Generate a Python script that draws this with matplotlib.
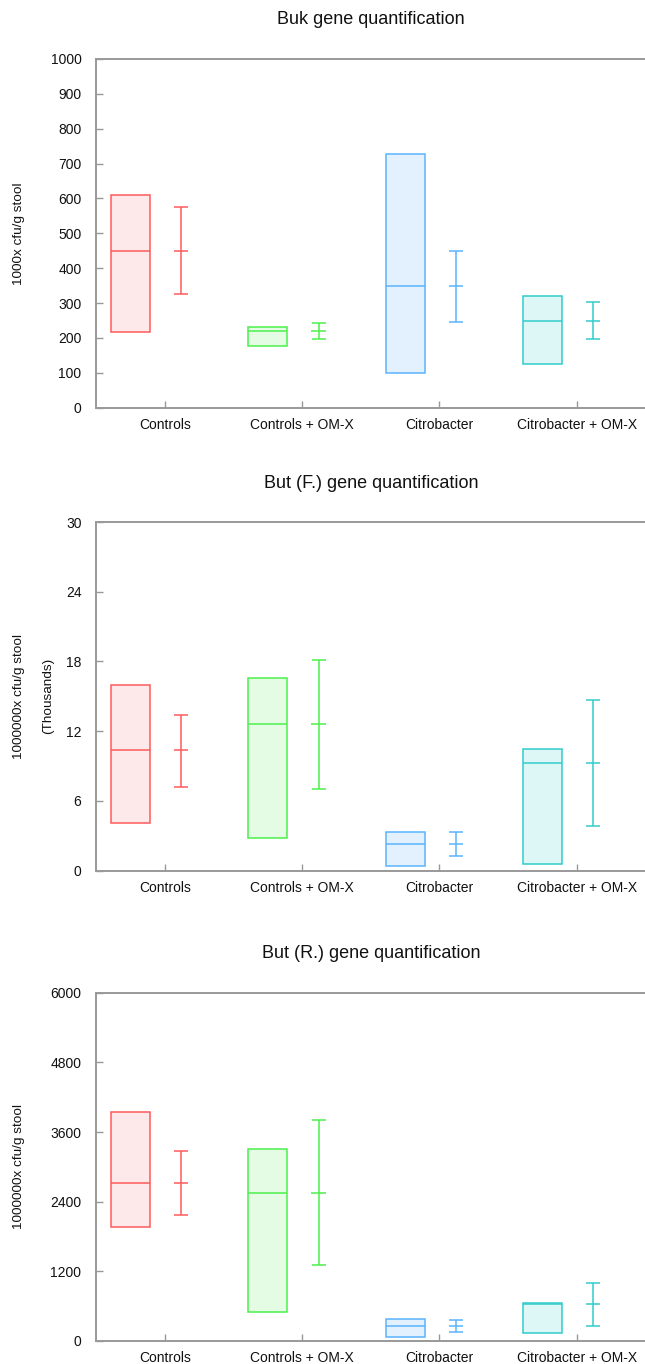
import matplotlib

matplotlib.use("Agg")
import matplotlib.pyplot as plt
import numpy as np

plt.rcParams["font.family"] = ["Liberation Sans", "DejaVu Sans"]

# ---- data ----
categories = ["Controls", "Controls + OM-X", "Citrobacter", "Citrobacter + OM-X"]

buk_box_low = [216, 177, 99, 124]
buk_box_high = [609, 230, 727, 320]
buk_median = [449, 219, 348, 250]
buk_err_low = [325, 197, 245, 198]
buk_err_high = [575, 243, 448, 303]

butf_box_low = [4.07, 2.78, 0.37, 0.57]
butf_box_high = [15.95, 16.55, 3.33, 10.50]
butf_median = [10.35, 12.59, 2.32, 9.24]
butf_err_low = [7.23, 7.06, 1.23, 3.81]
butf_err_high = [13.42, 18.13, 3.33, 14.68]

butr_box_low = [1956, 499, 75, 138]
butr_box_high = [3952, 3315, 384, 648]
butr_median = [2719, 2553, 252, 637]
butr_err_low = [2168, 1308, 155, 264]
butr_err_high = [3281, 3803, 356, 992]

line_colors = ["#ff5a5a", "#4cf04c", "#5ab4ff", "#33cccc"]
fill_colors = ["#fde9e9", "#e4fce4", "#e2f1fd", "#ddf6f6"]

panels = [
    dict(title="Buk gene quantification", ylabel="1000x cfu/g stool", extra=None,
         ylim=1000, yticks=np.arange(0, 1001, 100),
         low=buk_box_low, high=buk_box_high, med=buk_median,
         elo=buk_err_low, ehi=buk_err_high),
    dict(title="But (F.) gene quantification", ylabel="1000000x cfu/g stool",
         extra="(Thousands)", ylim=30, yticks=np.arange(0, 31, 6),
         low=butf_box_low, high=butf_box_high, med=butf_median,
         elo=butf_err_low, ehi=butf_err_high),
    dict(title="But (R.) gene quantification", ylabel="1000000x cfu/g stool",
         extra=None, ylim=6000, yticks=np.arange(0, 6001, 1200),
         low=butr_box_low, high=butr_box_high, med=butr_median,
         elo=butr_err_low, ehi=butr_err_high),
]

W, H = 645, 1364
fig = plt.figure(figsize=(W / 100, H / 100), dpi=100)

# axes boxes in pixels: (top, bottom)
ax_px = [(59, 407.7), (522, 870.7), (992.7, 1341)]
ax_left, ax_right = 96, 645.5

spine_c = "#999999"
x = np.arange(len(categories))

for p, (top, bot) in zip(panels, ax_px):
    ax = fig.add_axes([ax_left / W, 1 - bot / H, (ax_right - ax_left) / W, (bot - top) / H])
    low = np.array(p["low"])
    high = np.array(p["high"])
    med = np.array(p["med"])
    elo = np.array(p["elo"])
    ehi = np.array(p["ehi"])

    bx = x - 0.25
    ex = x + 0.12
    for i in range(len(categories)):
        ax.bar(bx[i], high[i] - low[i], bottom=low[i], width=0.284,
               color=fill_colors[i], edgecolor=line_colors[i], linewidth=1.1, zorder=2)
        ax.hlines(med[i], bx[i] - 0.142, bx[i] + 0.142, color=line_colors[i], lw=1.1, zorder=3)
        ax.errorbar(ex[i], med[i], yerr=[[med[i] - elo[i]], [ehi[i] - med[i]]],
                    fmt="none", ecolor=line_colors[i], elinewidth=1.1,
                    capsize=5.2, capthick=1.1, zorder=3)
        ax.hlines(med[i], ex[i] - 0.052, ex[i] + 0.052, color=line_colors[i], lw=1.1, zorder=3)

    ax.set_xlim(-0.5, 3.5)
    ax.set_ylim(0, p["ylim"])
    ax.set_yticks(p["yticks"])
    ax.set_xticks(x)
    ax.set_xticklabels(categories)
    ax.tick_params(axis="y", direction="in", length=5, width=1, color=spine_c,
                   labelsize=10, pad=10.5, labelcolor="#111111")
    ax.tick_params(axis="x", direction="in", length=5, width=1, color=spine_c,
                   labelsize=10, pad=7.5, labelcolor="#111111")
    for s in ("left", "top", "bottom"):
        ax.spines[s].set_color(spine_c)
        ax.spines[s].set_linewidth(1.4)
    ax.spines["right"].set_visible(False)

    cy = 1 - (top + bot) / 2 / H
    fig.text(19 / W, cy, p["ylabel"], rotation=90, ha="center", va="center",
             fontsize=9.7, color="#111111")
    if p["extra"]:
        fig.text(48 / W, cy, p["extra"], rotation=90, ha="center", va="center",
                 fontsize=9.7, color="#111111")
    fig.text(371 / W, 1 - (top - 39) / H, p["title"], ha="center", va="center",
             fontsize=13, color="#111111")

fig.savefig("out.png", dpi=100)
